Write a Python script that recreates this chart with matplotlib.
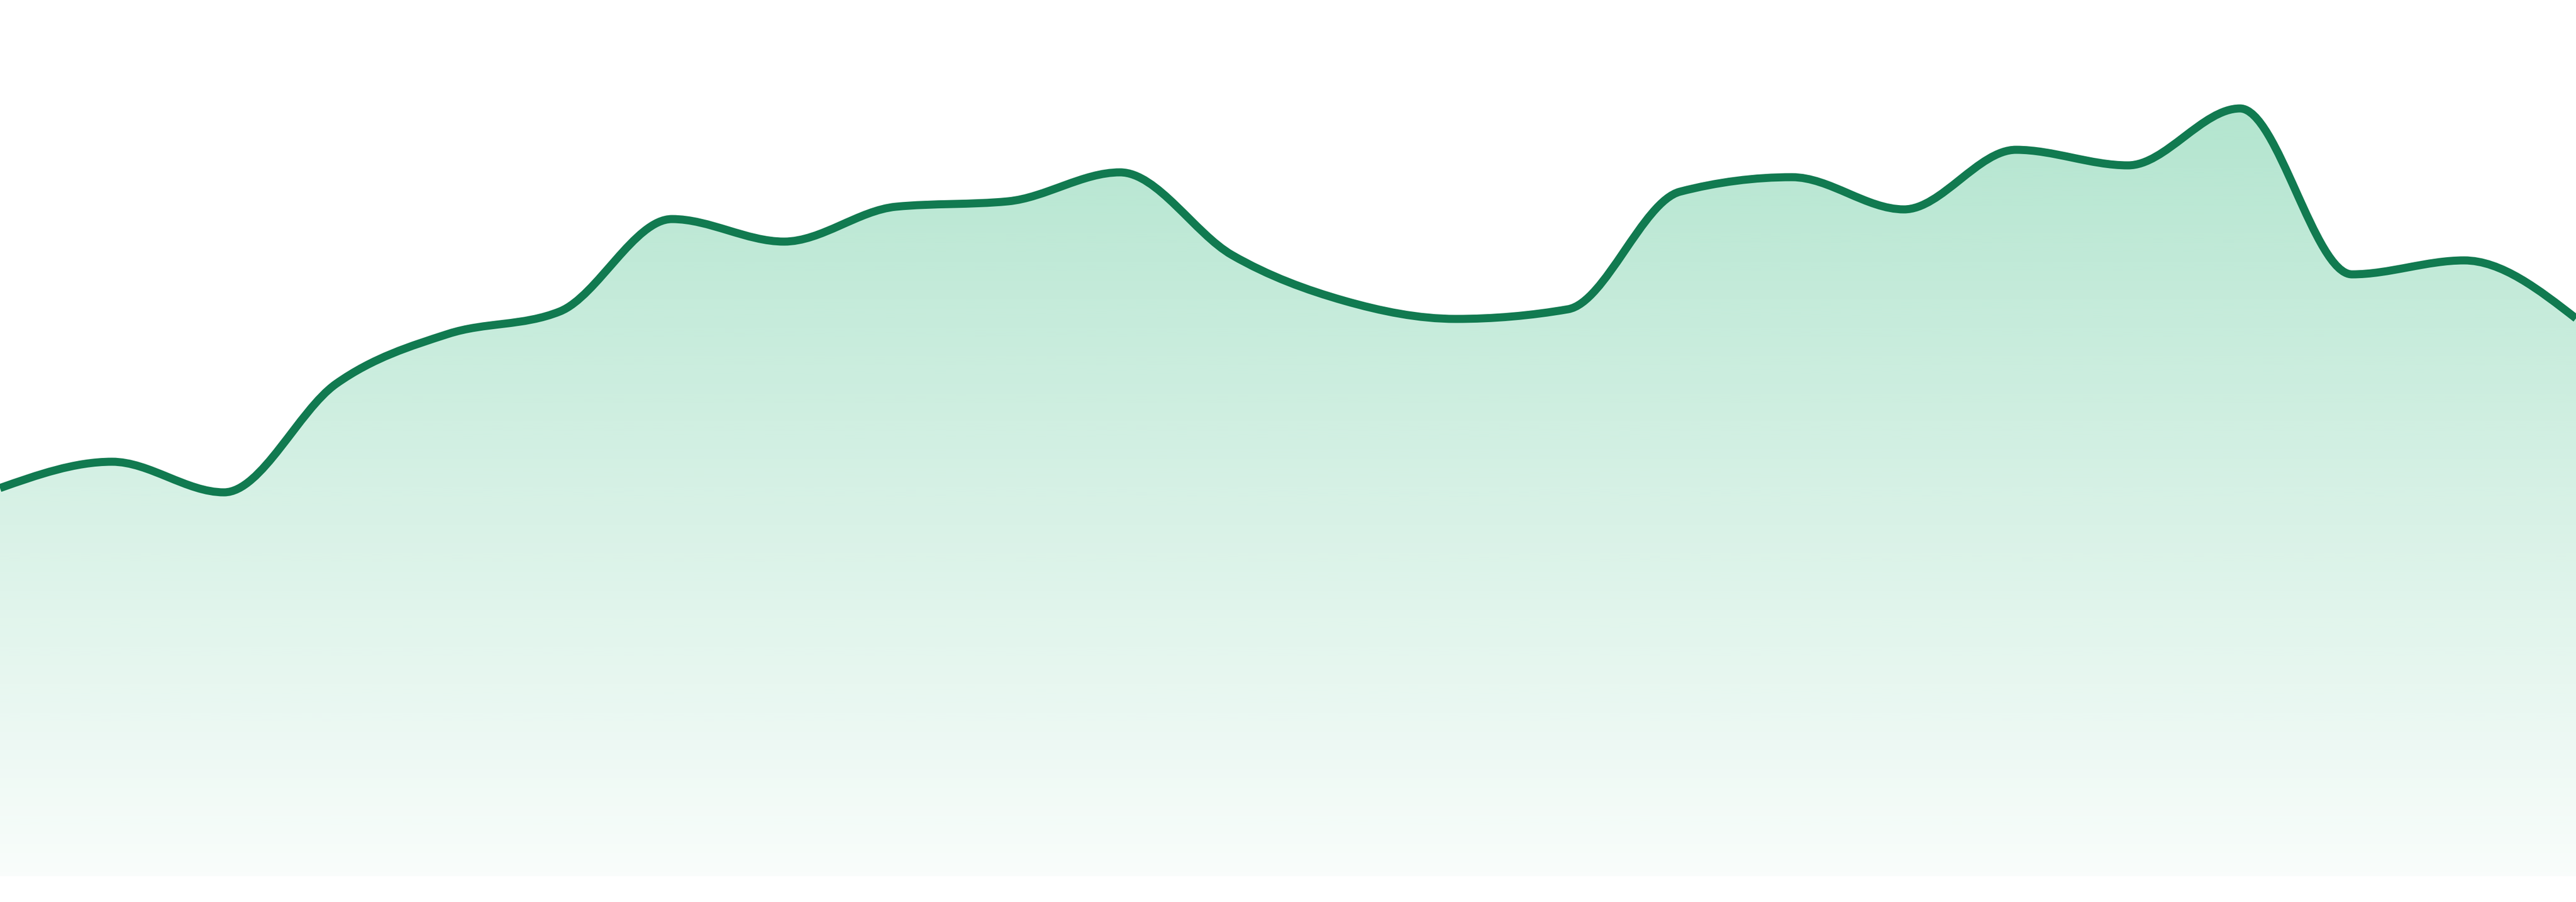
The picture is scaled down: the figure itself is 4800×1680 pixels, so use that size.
import numpy as np
import matplotlib
matplotlib.use("Agg")
import matplotlib.pyplot as plt
from matplotlib.path import Path
from matplotlib.patches import PathPatch

# valori (24 punti equidistanti, nessun asse visibile)
values = [72.3, 77.2, 71.5, 91.7, 101.0, 105.2, 122.4, 118.2,
          124.7, 125.7, 131.1, 115.7, 107.2, 103.8, 105.6, 127.5,
          130.2, 124.2, 135.3, 132.4, 143.0, 112.1, 114.7, 103.9]
steps = list(range(len(values)))

line_color = "#117a50"
fill_rgb = (38 / 255, 181 / 255, 118 / 255)
alpha_top, alpha_bottom = 0.35, 0.03

x = np.array(steps, dtype=float)
y = np.array(values, dtype=float)


# =============================================================================
# curva monotona (come curveMonotoneX di d3) -> segmenti di Bezier cubici
# =============================================================================
def monotone_tangents(x, y):
    n = len(x)
    h = np.diff(x)
    s = np.diff(y) / h
    t = np.zeros(n)
    for i in range(1, n - 1):
        p = (s[i - 1] * h[i] + s[i] * h[i - 1]) / (h[i - 1] + h[i])
        t[i] = (np.sign(s[i - 1]) + np.sign(s[i])) * min(abs(s[i - 1]), abs(s[i]), 0.5 * abs(p))
    t[0] = (3 * s[0] - t[1]) / 2
    t[-1] = (3 * s[-1] - t[-2]) / 2
    return t


tang = monotone_tangents(x, y)
verts = [(x[0], y[0])]
codes = [Path.MOVETO]
for i in range(len(x) - 1):
    dx = (x[i + 1] - x[i]) / 3
    verts += [(x[i] + dx, y[i] + dx * tang[i]),
              (x[i + 1] - dx, y[i + 1] - dx * tang[i + 1]),
              (x[i + 1], y[i + 1])]
    codes += [Path.CURVE4] * 3

line_path = Path(verts, codes)
area_path = Path(verts + [(x[-1], 0), (x[0], 0), (x[0], y[0])],
                 codes + [Path.LINETO, Path.LINETO, Path.CLOSEPOLY])

# =============================================================================
# figura
# =============================================================================
fig = plt.figure(figsize=(48, 16.8), dpi=100)
ax = fig.add_axes([0, 0, 1, 1])
ax.set_axis_off()

# gradiente verticale dentro l'area
n_rows = 400
alphas = np.linspace(alpha_top, alpha_bottom, n_rows)
grad = np.zeros((n_rows, 1, 4))
grad[:, 0, :3] = fill_rgb
grad[:, 0, 3] = alphas
img = ax.imshow(grad, extent=(x[0], x[-1], 0, y.max()), aspect="auto",
                origin="upper", interpolation="bilinear", zorder=1)
clip = PathPatch(area_path, facecolor="none", edgecolor="none", transform=ax.transData)
ax.add_patch(clip)
img.set_clip_path(clip)

# linea
ax.add_patch(PathPatch(line_path, facecolor="none", edgecolor=line_color,
                       linewidth=10.8, joinstyle="round", capstyle="butt", zorder=3))

ax.set_xlim(x[0], x[-1])
ax.set_ylim(-4.8, 163.2)

fig.savefig("out.png", dpi=100, facecolor="white")
